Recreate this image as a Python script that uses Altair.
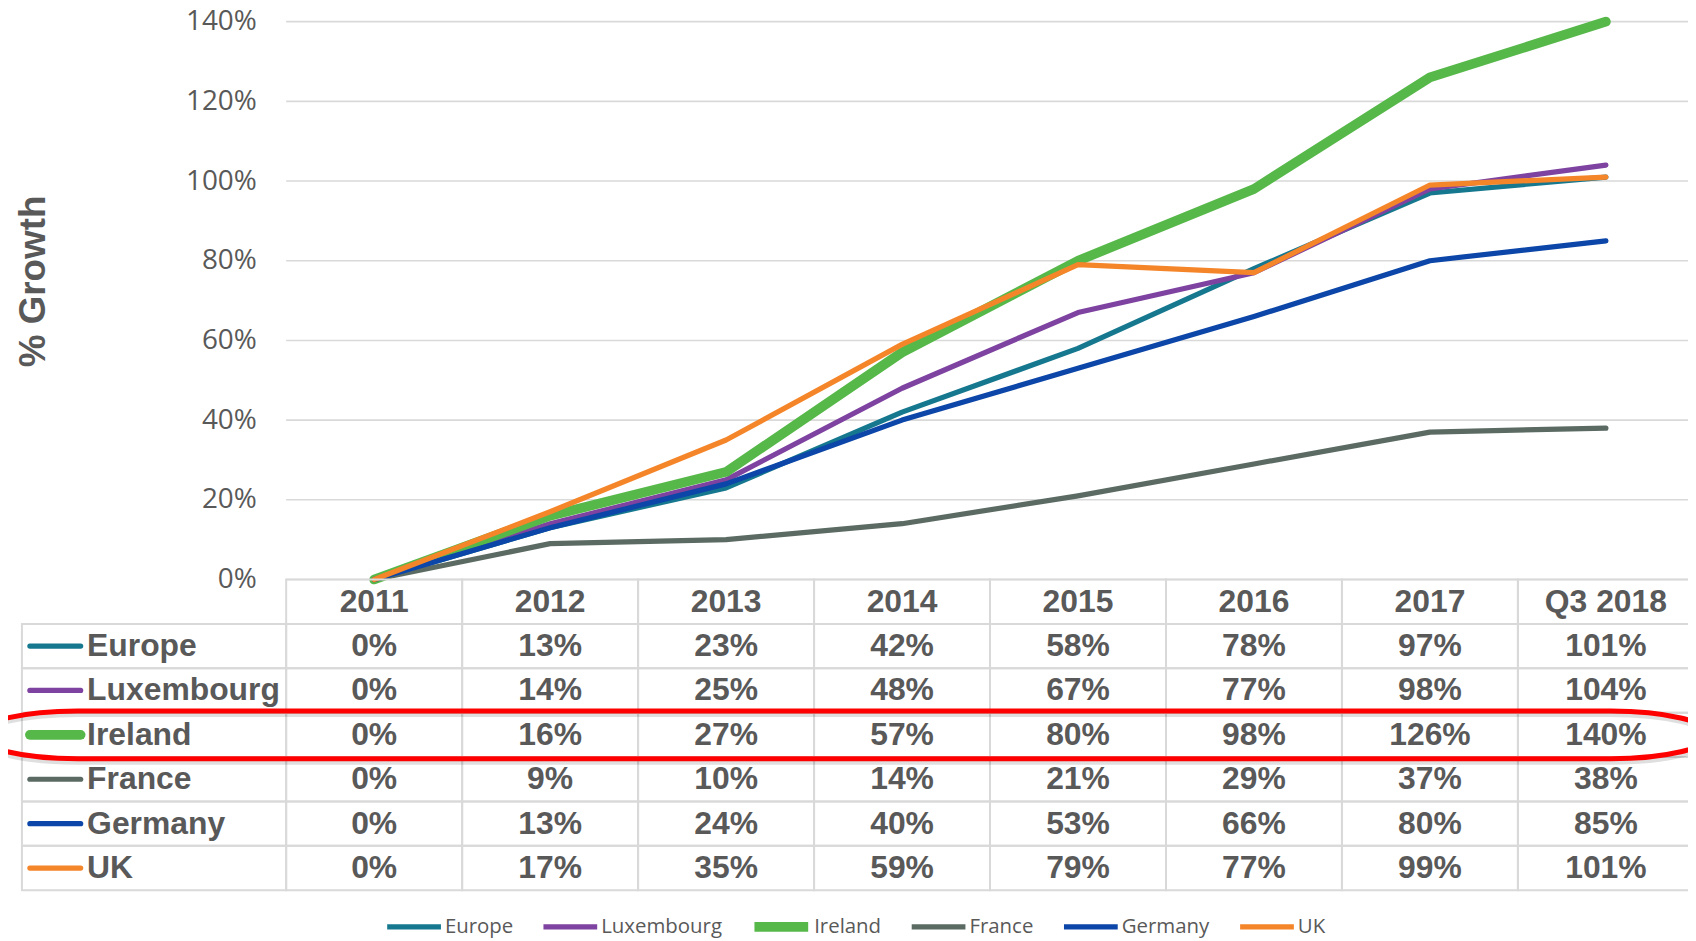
import altair as alt
import pandas as pd

# ---------------- data ----------------
categories = ["2011", "2012", "2013", "2014", "2015", "2016", "2017", "Q3 2018"]
countries = ["Europe", "Luxembourg", "Ireland", "France", "Germany", "UK"]
europe = [0, 13, 23, 42, 58, 78, 97, 101]
luxembourg = [0, 14, 25, 48, 67, 77, 98, 104]
ireland = [0, 16, 27, 57, 80, 98, 126, 140]
france = [0, 9, 10, 14, 21, 29, 37, 38]
germany = [0, 13, 24, 40, 53, 66, 80, 85]
uk = [0, 17, 35, 59, 79, 77, 99, 101]
y_ticks = [0, 0.2, 0.4, 0.6, 0.8, 1.0, 1.2, 1.4]
highlight = "Ireland"

series = dict(zip(countries, [europe, luxembourg, ireland, france, germany, uk]))

# ---------------- style / layout ----------------
colors = ["#16788F", "#7E42A0", "#57B84A", "#5B6B63", "#0B46A8", "#F58529"]
widths = [5.25, 5.25, 9.75, 5.25, 5.25, 5.25]
GRAY = "#595959"
GRID = "#D9D9D9"

PLOT_LEFT, PLOT_TOP = 22, 19.5          # page coordinates of the view origin
COL_W = 176.8
LABEL_W = 265.5
N = len(categories)
X_RANGE = LABEL_W + N * COL_W
VIEW_W = 1688 - (PLOT_LEFT - 8)
CHART_H = 560.5
ROW_H = 44.6
ROWS = ["header"] + countries
VIEW_H = CHART_H + ROW_H * len(ROWS)
SVG_H = 933

# ---------------- frames ----------------
recs = []
for c in countries:
    for i, (cat, v) in enumerate(zip(categories, series[c])):
        recs.append({"country": c, "cat": cat, "xi": i + 0.5, "pct": v / 100, "label": f"{v}%"})
df = pd.DataFrame(recs)

head = pd.DataFrame({"cat": categories, "xi": [i + 0.5 for i in range(N)], "row": "header"})

cells = []
for r in ROWS:
    if r != "header":
        cells.append({"row": r, "x0": -LABEL_W / COL_W, "x1": 0})
    for i in range(N):
        cells.append({"row": r, "x0": i, "x1": i + 1})
cells = pd.DataFrame(cells)

names = pd.DataFrame({"country": countries})
grid = pd.DataFrame({"v": y_ticks, "x0": 0, "x1": N})
hl = pd.DataFrame({"row": [highlight]})

# ---------------- scales ----------------
xs = alt.Scale(domain=[-LABEL_W / COL_W, N], range=[0, X_RANGE], nice=False, zero=False)
ys_line = alt.Scale(domain=[0, 1.4], range=[CHART_H, 0], nice=False, zero=False)
ys_tab = alt.Scale(type="band", domain=ROWS, range=[CHART_H, VIEW_H], paddingInner=0, paddingOuter=0)
cs = alt.Scale(domain=countries, range=colors)
ws = alt.Scale(type="ordinal", domain=countries, range=widths)

legend = alt.Legend(orient="none", legendX=364, legendY=897.5, direction="horizontal", title=None,
                    symbolType="stroke", symbolSize=2916, labelFont="Open Sans", labelFontSize=20.5,
                    labelColor=GRAY, labelOffset=1, columnPadding=27, padding=0, clipHeight=24)

y_axis = alt.Axis(values=y_ticks, format=".0%", offset=-LABEL_W, domain=False, ticks=False,
                  tickSize=0, grid=False, labelPadding=30, labelFont="Open Sans", labelFontSize=28,
                  labelColor=GRAY, labelFlush=False, labelOverlap=False,
                  title="% Growth", titleFont="Liberation Sans", titleFontWeight="bold",
                  titleFontSize=37, titleColor=GRAY, titleAngle=270, titleAlign="center",
                  titleBaseline="middle", titleX=33.5 - (PLOT_LEFT + LABEL_W), titleY=280 - PLOT_TOP)

# ---------------- line chart part ----------------
gridrules = alt.Chart(grid).mark_rule(color=GRID, strokeWidth=1.6).encode(
    x=alt.X("x0:Q", scale=xs, axis=None),
    x2="x1:Q",
    y=alt.Y("v:Q", scale=ys_line, axis=y_axis),
)

lines = alt.Chart(df).mark_line(strokeCap="round", strokeJoin="round").encode(
    x=alt.X("xi:Q", scale=xs, axis=None),
    y=alt.Y("pct:Q", scale=ys_line, axis=y_axis),
    color=alt.Color("country:N", scale=cs, legend=legend),
    strokeWidth=alt.StrokeWidth("country:N", scale=ws, legend=legend),
    order=alt.Order("xi:Q"),
    detail="country:N",
)
lines_part = alt.layer(gridrules, lines)

# ---------------- table part ----------------
rects = alt.Chart(cells).mark_rect(fill="white", fillOpacity=0, stroke=GRID, strokeWidth=2).encode(
    x=alt.X("x0:Q", scale=xs, axis=None),
    x2="x1:Q",
    y=alt.Y("row:N", scale=ys_tab, axis=None),
)

TXT = dict(font="Liberation Sans", fontWeight="bold", fontSize=32, color=GRAY, baseline="middle")

head_txt = alt.Chart(head).mark_text(align="center", **TXT).encode(
    x=alt.X("xi:Q", scale=xs, axis=None),
    y=alt.Y("row:N", scale=ys_tab, axis=None),
    text="cat:N",
)

val_txt = alt.Chart(df).mark_text(align="center", **TXT).encode(
    x=alt.X("xi:Q", scale=xs, axis=None),
    y=alt.Y("country:N", scale=ys_tab, axis=None),
    text="label:N",
)

name_txt = alt.Chart(names).mark_text(align="left", **TXT).encode(
    x=alt.value(65.5),
    y=alt.Y("country:N", scale=ys_tab, axis=None),
    text="country:N",
)

swatch = alt.Chart(names).mark_point(shape="M-1,0L1,0", size=2601, filled=False, opacity=1,
                                     strokeCap="round").encode(
    x=alt.value(33.5),
    y=alt.Y("country:N", scale=ys_tab, axis=None),
    color=alt.Color("country:N", scale=cs, legend=legend),
    strokeWidth=alt.StrokeWidth("country:N", scale=ws, legend=legend),
)

# oval annotation around the highlighted row
HALF_W = 870.0
hh = 24.0 / HALF_W
cw = 100.0 / HALF_W
k = 0.5523
def f(v):
    return f"{v:.5f}"
oval = (f"M{f(-1 + cw)},{f(-hh)}L{f(1 - cw)},{f(-hh)}"
        f"C{f(1 - cw + k * cw)},{f(-hh)} 1,{f(-k * hh)} 1,0"
        f"C1,{f(k * hh)} {f(1 - cw + k * cw)},{f(hh)} {f(1 - cw)},{f(hh)}"
        f"L{f(-1 + cw)},{f(hh)}"
        f"C{f(-1 + cw - k * cw)},{f(hh)} -1,{f(k * hh)} -1,0"
        f"C-1,{f(-k * hh)} {f(-1 + cw - k * cw)},{f(-hh)} {f(-1 + cw)},{f(-hh)}Z")
OVAL_CX = 848 - PLOT_LEFT
OVAL_SIZE = (2 * HALF_W) ** 2
shadow = alt.Chart(hl).mark_point(shape=oval, size=OVAL_SIZE, filled=False,
                                  stroke="#000000", strokeWidth=6, opacity=0.12, yOffset=3).encode(
    x=alt.value(OVAL_CX),
    y=alt.Y("row:N", scale=ys_tab, axis=None),
)
ring = alt.Chart(hl).mark_point(shape=oval, size=OVAL_SIZE, filled=False,
                                stroke="#FF0000", strokeWidth=5, opacity=1).encode(
    x=alt.value(OVAL_CX),
    y=alt.Y("row:N", scale=ys_tab, axis=None),
)

table_part = alt.layer(rects, head_txt, val_txt, name_txt, swatch, shadow, ring)

chart = alt.layer(lines_part, table_part).resolve_scale(y="independent").properties(
    width=VIEW_W,
    height=VIEW_H,
    autosize=alt.AutoSizeParams(type="none"),
    padding={"left": PLOT_LEFT - 8, "top": PLOT_TOP - 8, "right": 0,
             "bottom": SVG_H - (PLOT_TOP - 8) - VIEW_H},
    background="white",
).configure_view(stroke=None)

chart.save("out.html", embed_options={"renderer": "svg", "actions": False})
